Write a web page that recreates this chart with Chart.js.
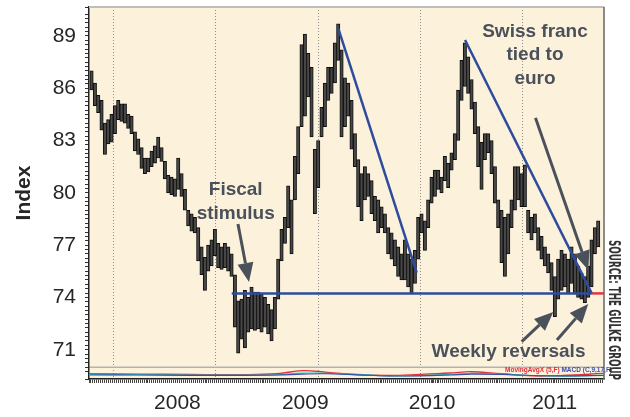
<!DOCTYPE html>
<html>
<head>
<meta charset="utf-8">
<script src="https://cdn.jsdelivr.net/npm/chart.js@4.4.1/dist/chart.umd.min.js"></script>
<style>
  html, body { margin: 0; padding: 0; background: #fff; }
  #wrap { width: 630px; height: 417px; }
</style>
</head>
<body>
<div id="wrap"><canvas id="chart"></canvas></div>
<script>
// price bars: one bar every ~12 days, first one in Oct 2006
const barStart = 2006.79;
const barStep = 0.0326;
const lows = [
  85.9, 85.0, 84.6, 83.6, 82.2, 82.8, 82.9, 83.4, 84.2, 84.1,
  84.0, 83.7, 83.4, 82.4, 82.2, 81.4, 81.1, 81.2, 81.5, 81.7,
  82.0, 81.8, 80.8, 80.0, 79.9, 79.8, 80.2, 79.8, 79.0, 78.1,
  77.8, 77.7, 76.1, 75.3, 74.4, 75.5, 75.8, 76.4, 75.7, 75.6,
  75.7, 75.5, 75.2, 72.3, 70.8, 71.6, 71.1, 72.0, 72.2, 72.1,
  72.2, 72.0, 72.3, 71.9, 71.5, 72.2, 73.9, 76.1, 77.1, 78.0,
  76.5, 79.6, 81.1, 83.8, 84.4, 85.5, 83.2, 78.8, 80.3, 83.2,
  83.8, 85.3, 85.7, 86.3, 87.6, 83.2, 83.8, 84.4, 82.5, 81.5,
  79.2, 78.4, 79.6, 79.8, 78.8, 78.4, 77.7, 78.0, 77.7, 76.5,
  76.2, 75.8, 75.2, 75.0, 75.0, 74.6, 74.2, 74.8, 76.2, 77.7,
  76.7, 78.0, 79.4, 79.8, 80.2, 80.0, 80.7, 80.3, 81.3, 81.9,
  83.0, 85.3, 86.1, 85.7, 84.8, 83.4, 81.5, 80.2, 81.9, 82.3,
  81.1, 79.4, 78.0, 76.0, 75.2, 76.5, 78.0, 79.0, 79.6, 79.2,
  79.2, 77.7, 77.3, 77.7, 76.7, 76.2, 75.8, 75.4, 74.4, 72.9,
  73.9, 74.4, 74.6, 74.2, 74.8, 74.2, 74.0, 73.9, 73.7, 74.0,
  74.6, 76.5, 76.9
];
const highs = [
  87.0, 86.3, 85.6, 85.3, 84.0, 84.2, 84.5, 85.0, 85.3, 85.1,
  85.1, 84.5, 84.4, 83.5, 83.1, 82.6, 82.0, 82.0, 82.4, 82.7,
  83.2, 82.6, 81.8, 81.0, 80.9, 80.8, 82.0, 81.1, 80.2, 79.0,
  78.8, 78.6, 78.0, 76.9, 76.3, 77.0, 77.3, 77.9, 77.1, 76.9,
  77.1, 76.9, 76.5, 75.3, 73.8, 73.9, 74.4, 74.0, 74.6, 74.3,
  74.3, 74.2, 74.0, 73.6, 73.3, 74.0, 76.2, 77.9, 78.6, 80.4,
  79.6, 82.1, 83.8, 88.5, 89.1, 88.0, 87.2, 82.5, 83.0, 84.9,
  86.3, 87.2, 87.2, 88.6, 89.7, 88.2, 86.6, 86.3, 85.3, 83.4,
  81.9, 81.1, 81.5, 81.1, 80.7, 79.8, 79.6, 79.2, 78.8, 78.0,
  77.7, 77.3, 76.9, 76.5, 77.3, 76.5, 76.2, 76.7, 78.6, 78.8,
  78.4, 79.6, 80.9, 81.3, 81.3, 80.9, 82.1, 81.7, 82.3, 83.4,
  85.9, 87.6, 88.6, 87.8, 86.5, 85.2, 83.8, 82.9, 83.4, 83.4,
  83.0, 81.5, 79.6, 79.0, 78.6, 78.8, 79.6, 81.5, 81.5, 81.1,
  81.6, 79.0, 78.6, 78.8, 78.0, 77.5, 76.9, 76.5, 76.0, 75.2,
  76.2, 76.7, 76.5, 76.2, 76.9, 76.5, 75.8, 75.4, 75.2, 75.8,
  77.3, 78.0, 78.4
];

// trend lines [year, index]
const supportLine = [[2008.161, 74.23], [2011.682, 74.23]];
const downTrend09 = [[2009.203, 89.44], [2009.970, 75.42]];
const downTrend10 = [[2010.443, 88.77], [2011.682, 74.23]];
const lastPrice = [[2011.682, 74.23], [2011.802, 74.23]];

// indicator strip under the price panel
const macdDates = [2006.77, 2007.25, 2007.75, 2008.25, 2008.6, 2008.85, 2009.1, 2009.4, 2009.7, 2010.0, 2010.3, 2010.5, 2010.8, 2011.1, 2011.4, 2011.8];
const macdRed  = [69.62, 69.60, 69.58, 69.57, 69.62, 69.80, 69.70, 69.56, 69.52, 69.58, 69.66, 69.74, 69.62, 69.50, 69.52, 69.64];
const macdCyan = [69.58, 69.57, 69.55, 69.55, 69.56, 69.66, 69.64, 69.58, 69.50, 69.52, 69.58, 69.64, 69.60, 69.52, 69.48, 69.55];
const macdBlue = [69.55, 69.55, 69.53, 69.53, 69.55, 69.60, 69.62, 69.56, 69.50, 69.50, 69.55, 69.60, 69.58, 69.52, 69.50, 69.52];

const yLabels = [71, 74, 77, 80, 83, 86, 89];
const yearLines = [2007, 2008, 2009, 2010, 2011];
const yearText = ['2008', '2009', '2010', '2011'];
const yearTextAt = [2007.63, 2008.88, 2010.12, 2011.32];
const panelFloor = 70.0;

const FONT = '"Liberation Sans", Arial, Helvetica, sans-serif';
const NOTE = '#4b515a';
const BLUE = '#2d4c9e';

const toXY = pts => pts.map(p => ({ x: p[0], y: p[1] }));

const notes = [
  { lines: ['Fiscal', 'stimulus'], at: [2008.20, 80.16], arrows: [[[2008.222, 78.21], [2008.330, 74.89]]] },
  { lines: ['Swiss franc', 'tied to', 'euro'], at: [2011.127, 89.25], arrows: [[[2011.132, 84.30], [2011.648, 75.58]]] },
  { lines: ['Weekly reversals'], at: [2010.868, 70.89], arrows: [
      [[2010.997, 71.46], [2011.306, 73.17]],
      [[2011.342, 71.56], [2011.648, 73.62]]
  ] }
];

function drawArrow(ctx, x0, y0, x1, y1) {
  const ang = Math.atan2(y1 - y0, x1 - x0);
  const headLen = 19, headW = 16;
  const bx = x1 - headLen * Math.cos(ang), by = y1 - headLen * Math.sin(ang);
  ctx.lineWidth = 3;
  ctx.beginPath();
  ctx.moveTo(x0, y0);
  ctx.lineTo(bx, by);
  ctx.stroke();
  ctx.beginPath();
  ctx.moveTo(x1, y1);
  ctx.lineTo(bx + headW / 2 * Math.sin(ang), by - headW / 2 * Math.cos(ang));
  ctx.lineTo(bx - headW / 2 * Math.sin(ang), by + headW / 2 * Math.cos(ang));
  ctx.closePath();
  ctx.fill();
}

const decor = {
  id: 'decor',
  beforeDraw(chart) {
    const { ctx, chartArea: a, scales: { x, y } } = chart;
    ctx.save();
    ctx.fillStyle = '#fff';
    ctx.fillRect(0, 0, chart.width, chart.height);
    ctx.fillStyle = '#fcf2dc';
    ctx.fillRect(a.left, a.top, a.right - a.left, a.bottom - a.top);
    ctx.strokeStyle = '#8c8c8c';
    ctx.lineWidth = 1;
    ctx.setLineDash([1, 2]);
    yearLines.forEach(v => {
      const px = Math.round(x.getPixelForValue(v)) + 0.5;
      ctx.beginPath();
      ctx.moveTo(px, a.top);
      ctx.lineTo(px, a.bottom);
      ctx.stroke();
    });
    ctx.setLineDash([]);
    const sy = y.getPixelForValue(panelFloor);
    ctx.strokeStyle = '#b3b3b3';
    ctx.lineWidth = 1.5;
    ctx.beginPath();
    ctx.moveTo(a.left, sy);
    ctx.lineTo(a.right, sy);
    ctx.stroke();
    ctx.restore();
  },
  afterDraw(chart) {
    const { ctx, chartArea: a, scales: { x, y } } = chart;
    ctx.save();
    // frame
    ctx.strokeStyle = '#bdbdbd';
    ctx.lineWidth = 2;
    ctx.beginPath();
    ctx.moveTo(a.left, a.top);
    ctx.lineTo(a.right, a.top);
    ctx.stroke();
    ctx.strokeStyle = '#666';
    ctx.lineWidth = 1.5;
    ctx.beginPath();
    ctx.moveTo(a.right, a.top);
    ctx.lineTo(a.right, a.bottom);
    ctx.stroke();

    // notes
    ctx.fillStyle = NOTE;
    ctx.strokeStyle = NOTE;
    ctx.font = 'bold 19px ' + FONT;
    ctx.textAlign = 'center';
    ctx.textBaseline = 'middle';
    notes.forEach(n => {
      const cx = x.getPixelForValue(n.at[0]);
      const cy = y.getPixelForValue(n.at[1]);
      n.lines.forEach((t, i) => ctx.fillText(t, cx, cy + i * 23.5));
      n.arrows.forEach(ar => {
        drawArrow(ctx,
          x.getPixelForValue(ar[0][0]), y.getPixelForValue(ar[0][1]),
          x.getPixelForValue(ar[1][0]), y.getPixelForValue(ar[1][1]));
      });
    });

    // indicator legend
    ctx.font = 'bold 6.5px ' + FONT;
    ctx.textAlign = 'left';
    ctx.textBaseline = 'middle';
    const ly = y.getPixelForValue(69.84);
    ctx.fillStyle = '#e0303a';
    const t1 = 'MovingAvgX (5,F) ';
    ctx.fillText(t1, 505, ly);
    ctx.fillStyle = '#3a4fa8';
    ctx.fillText('MACD (C,9,17,F)', 505 + ctx.measureText(t1).width, ly);

    // source
    ctx.fillStyle = '#333';
    ctx.font = 'bold 15px "Liberation Sans Narrow", "DejaVu Sans Condensed", ' + FONT;
    const src = 'SOURCE: THE GULKE GROUP';
    const w = ctx.measureText(src).width;
    ctx.translate(a.right + 9, 310);
    ctx.rotate(Math.PI / 2);
    ctx.scale(140 / w, 1);
    ctx.textAlign = 'center';
    ctx.fillText(src, 0, 0);
    ctx.restore();
  }
};

const lineSet = (pts, color, width, order) => ({
  type: 'line',
  data: toXY(pts),
  borderColor: color,
  borderWidth: width,
  pointRadius: 0,
  tension: 0,
  order: order
});

new Chart(document.getElementById('chart'), {
  type: 'bar',
  data: {
    datasets: [
      {
        type: 'bar',
        data: lows.map((lo, i) => ({ x: barStart + i * barStep, y: [lo, highs[i]] })),
        backgroundColor: '#474747',
        borderColor: '#0d0d0d',
        borderWidth: 1,
        borderSkipped: false,
        barThickness: 3.4,
        order: 3
      },
      Object.assign(lineSet(macdDates.map((d, i) => [d, macdBlue[i]]), '#3a4fa8', 1.2, 2), { tension: 0.4 }),
      Object.assign(lineSet(macdDates.map((d, i) => [d, macdCyan[i]]), '#2fc4c4', 1.2, 2), { tension: 0.4 }),
      Object.assign(lineSet(macdDates.map((d, i) => [d, macdRed[i]]), '#e0303a', 1.4, 2), { tension: 0.4 }),
      lineSet(supportLine, BLUE, 2.5, 1),
      lineSet(downTrend09, BLUE, 2.5, 1),
      lineSet(downTrend10, BLUE, 2.5, 1),
      lineSet(lastPrice, '#e8333b', 2.5, 1)
    ]
  },
  options: {
    responsive: true,
    maintainAspectRatio: false,
    animation: false,
    devicePixelRatio: 1,
    layout: { padding: { left: 0, top: 7, right: 26, bottom: 0 } },
    plugins: {
      legend: { display: false },
      tooltip: { enabled: false },
      title: { display: false }
    },
    scales: {
      x: {
        type: 'linear',
        min: 2006.765,
        max: 2011.802,
        offset: false,
        afterFit: s => { s.height = 38; s.paddingLeft = 0; s.paddingRight = 0; },
        afterBuildTicks: s => {
          const t = [];
          for (let v = s.min; v <= s.max; v += 1 / 52) t.push({ value: v });
          yearTextAt.forEach(v => t.push({ value: v }));
          s.ticks = t;
        },
        ticks: {
          autoSkip: false,
          maxRotation: 0,
          padding: 8,
          color: '#262626',
          font: { family: FONT, size: 21 },
          callback: v => {
            const k = yearTextAt.findIndex(p => Math.abs(p - v) < 1e-9);
            return k >= 0 ? yearText[k] : '';
          }
        },
        grid: { offset: false, drawOnChartArea: false, tickLength: 4, color: '#444', lineWidth: 1 },
        border: { color: '#222', width: 1.5 }
      },
      y: {
        min: 69.32,
        max: 90.66,
        afterFit: s => { s.width = 89; s.paddingTop = 0; s.paddingBottom = 0; },
        ticks: {
          stepSize: 0.25,
          maxTicksLimit: 200,
          autoSkip: false,
          padding: 9,
          color: '#262626',
          font: { family: FONT, size: 21 },
          callback: v => yLabels.includes(v) ? String(v) : ''
        },
        grid: { drawOnChartArea: false, tickLength: 4, color: '#333', lineWidth: 1 },
        border: { color: '#222', width: 1.5 },
        title: {
          display: true,
          text: 'Index',
          color: '#262626',
          font: { family: FONT, size: 21, weight: 'bold' },
          padding: { top: 12, bottom: 0 }
        }
      }
    }
  },
  plugins: [decor]
});
</script>
</body>
</html>
